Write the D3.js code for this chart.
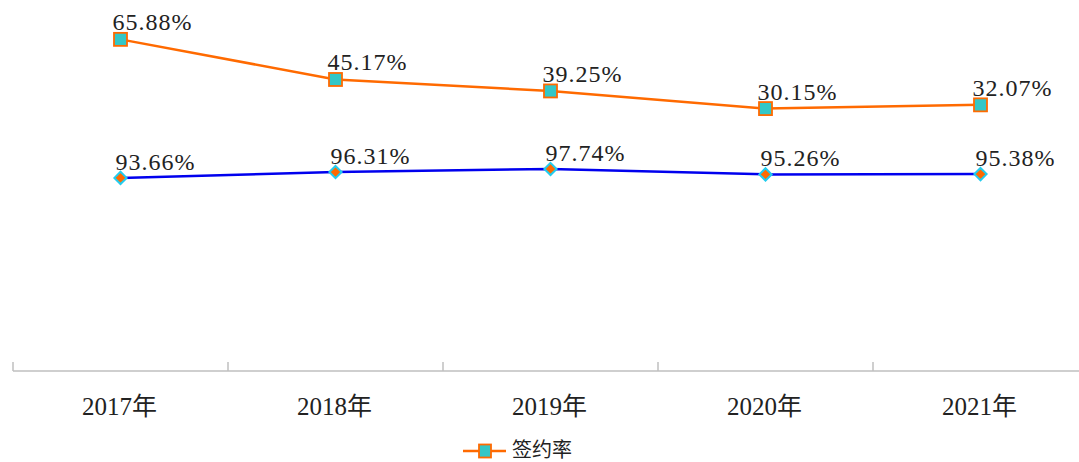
<!DOCTYPE html>
<html>
<head>
<meta charset="utf-8">
<script src="https://cdn.jsdelivr.net/npm/d3@7"></script>
<style>
  body { margin: 0; background: #fff; }
  svg { display: block; }
  .label { font-family: "Liberation Serif", "DejaVu Serif", serif; font-size: 24px; fill: #222; letter-spacing: 1px; }
  .year { font-family: "Liberation Serif", "Noto Sans CJK SC", serif; font-size: 25px; fill: #222; }
  .legend-text { font-family: "Noto Sans CJK SC", sans-serif; font-size: 20px; fill: #222; }
</style>
</head>
<body>
<div id="chart"></div>
<script>
// chart data
const years = ['2017年', '2018年', '2019年', '2020年', '2021年'];
const signRate = [65.88, 45.17, 39.25, 30.15, 32.07];
const otherRate = [93.66, 96.31, 97.74, 95.26, 95.38];
const legendLabel = '签约率';

const width = 1079, height = 462;
const orange = '#ff6a00', teal = '#33c7c7', blue = '#0000ee', cyan = '#22ccee';

const svg = d3.select('#chart').append('svg')
    .attr('width', width)
    .attr('height', height);

// x: one band per year, axis runs past the right edge
const x = d3.scaleBand()
    .domain(years)
    .range([13, 1088]);

// each series sits on its own (hidden) scale
const yOrange = d3.scaleLinear().domain([0, 80]).range([167, 12]);
const yBlue = d3.scaleLinear().domain([0, 100]).range([383, 164]);

const cx = d => x(d) + x.bandwidth() / 2;

// axis line + upward ticks at band edges
const axisY = 371;
svg.append('line')
    .attr('x1', x.range()[0]).attr('x2', width)
    .attr('y1', axisY).attr('y2', axisY)
    .attr('stroke', '#bfbfbf').attr('stroke-width', 1.5);

svg.selectAll('.tick-mark')
    .data(years)
    .join('line')
    .attr('class', 'tick-mark')
    .attr('x1', d => x(d)).attr('x2', d => x(d))
    .attr('y1', axisY - 9).attr('y2', axisY)
    .attr('stroke', '#bfbfbf').attr('stroke-width', 1.5);

svg.selectAll('.year')
    .data(years)
    .join('text')
    .attr('class', 'year')
    .attr('x', d => cx(d) - 1)
    .attr('y', 415)
    .attr('text-anchor', 'middle')
    .text(d => d);

// blue line with diamond markers
const blueLine = d3.line()
    .x((d, i) => cx(years[i]))
    .y(d => yBlue(d));

svg.append('path')
    .datum(otherRate)
    .attr('d', blueLine)
    .attr('fill', 'none')
    .attr('stroke', blue)
    .attr('stroke-width', 2.5);

svg.selectAll('.diamond')
    .data(otherRate)
    .join('path')
    .attr('class', 'diamond')
    .attr('d', d3.symbol(d3.symbolDiamond2, 95))
    .attr('transform', (d, i) => `translate(${cx(years[i])},${yBlue(d)})`)
    .attr('fill', orange)
    .attr('stroke', cyan)
    .attr('stroke-width', 2);

// orange line with square markers
const orangeLine = d3.line()
    .x((d, i) => cx(years[i]))
    .y(d => yOrange(d));

svg.append('path')
    .datum(signRate)
    .attr('d', orangeLine)
    .attr('fill', 'none')
    .attr('stroke', orange)
    .attr('stroke-width', 2.5);

svg.selectAll('.square')
    .data(signRate)
    .join('rect')
    .attr('class', 'square')
    .attr('x', (d, i) => cx(years[i]) - 6.5)
    .attr('y', d => yOrange(d) - 6.5)
    .attr('width', 13).attr('height', 13)
    .attr('fill', teal)
    .attr('stroke', orange)
    .attr('stroke-width', 1.8);

// data labels
svg.selectAll('.label-o')
    .data(signRate)
    .join('text')
    .attr('class', 'label label-o')
    .attr('x', (d, i) => cx(years[i]) - 8)
    .attr('y', d => yOrange(d) - 9)
    .text(d => d.toFixed(2) + '%');

svg.selectAll('.label-b')
    .data(otherRate)
    .join('text')
    .attr('class', 'label label-b')
    .attr('x', (d, i) => cx(years[i]) - 5)
    .attr('y', d => yBlue(d) - 8)
    .text(d => d.toFixed(2) + '%');

// legend
const legend = svg.append('g')
    .attr('transform', 'translate(463,451)');

legend.append('line')
    .attr('x1', 0).attr('x2', 43)
    .attr('stroke', orange).attr('stroke-width', 2.5);

legend.append('rect')
    .attr('x', 16).attr('y', -6.5)
    .attr('width', 12).attr('height', 13)
    .attr('fill', teal)
    .attr('stroke', orange)
    .attr('stroke-width', 1.8);

legend.append('text')
    .attr('class', 'legend-text')
    .attr('x', 49)
    .attr('y', -1)
    .attr('dy', '0.35em')
    .text(legendLabel);
</script>
</body>
</html>
